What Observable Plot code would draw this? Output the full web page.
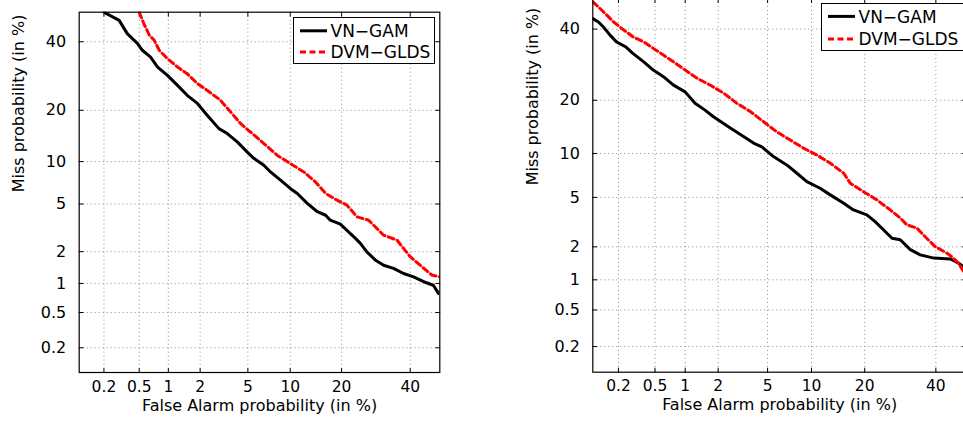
<!DOCTYPE html>
<html><head><meta charset="utf-8">
<script src="https://cdn.jsdelivr.net/npm/d3@7"></script>
<script src="https://cdn.jsdelivr.net/npm/@observablehq/plot@0.6"></script>
<style>
html,body{margin:0;padding:0;background:#fff;}
#wrap{position:relative;width:963px;height:421px;overflow:hidden;font-family:"DejaVu Sans",sans-serif;}
.panel{position:absolute;}
.legend{position:absolute;border:1px solid #000;background:#fff;box-sizing:border-box;overflow:hidden;}
.legend svg{position:absolute;left:0;top:0;}
</style></head><body><div id="wrap"></div>
<script>
// Tick values (in %) and labels
const xTicks = [0.2, 0.5, 1, 2, 5, 10, 20, 40];
const xTickLabels = ["0.2", "0.5", "1", "2", "5", "10", "20", "40"];
const yTicks = [0.2, 0.5, 1, 2, 5, 10, 20, 40];
const yTickLabels = ["0.2", "0.5", "1", "2", "5", "10", "20", "40"];
const axisRange = [0.1, 50];
const xLabel = "False Alarm probability (in %)";
const yLabel = "Miss probability (in %)";
const seriesNames = ["VN\u2212GAM", "DVM\u2212GLDS"];
const seriesColors = ["#000000", "#ff0000"];

// [false alarm %, miss %]
const leftVN = [[0.20,50],[0.30,47.2],[0.37,42.7],[0.48,39.4],[0.54,37.2],[0.66,35.0],[0.78,31.9],[0.98,29.4],[1.23,26.5],[1.52,23.8],[1.89,21.7],[2.32,18.8],[2.92,15.9],[3.43,14.9],[4.13,13.3],[4.95,11.5],[5.55,10.5],[6.58,9.47],[7.34,8.53],[8.61,7.48],[10.0,6.53],[11.1,6.0],[12.8,5.05],[14.7,4.35],[16.4,4.08],[17.4,3.72],[19.7,3.45],[21.7,2.98],[23.5,2.62],[24.8,2.37],[26.6,1.99],[29.0,1.68],[31.5,1.50],[34.6,1.40],[37.8,1.25],[41.1,1.16],[44.5,1.04],[47.8,0.96],[49.6,0.79]];
const leftDVM = [[0.50,50],[0.56,46.1],[0.64,42.2],[0.72,40.5],[0.81,37.2],[0.98,34.5],[1.23,31.9],[1.52,29.9],[1.89,27.0],[2.32,25.1],[3.01,22.5],[3.65,19.6],[4.38,17.0],[5.24,15.2],[6.58,13.0],[8.16,11.0],[10.0,9.71],[12.2,8.53],[14.3,7.29],[16.4,6.0],[18.9,5.35],[21.3,4.9],[23.9,3.96],[27.1,3.72],[29.5,3.18],[31.5,2.79],[35.7,2.53],[37.8,2.14],[40.0,1.80],[43.3,1.50],[47.3,1.21],[50,1.16]];
const rightVN = [[0.10,43.4],[0.117,42.3],[0.134,40.7],[0.16,38.1],[0.19,36.0],[0.24,34.5],[0.29,32.5],[0.38,30.0],[0.48,27.7],[0.61,25.9],[0.77,23.7],[1.0,22.0],[1.24,19.3],[1.53,17.8],[1.82,16.4],[2.54,14.2],[3.26,12.7],[3.91,11.6],[4.53,11.0],[5.52,9.56],[6.86,8.44],[8.04,7.42],[9.34,6.5],[11.3,5.83],[13.0,5.22],[15.5,4.52],[17.5,4.02],[20.5,3.68],[22.5,3.25],[24.6,2.79],[26.9,2.37],[29.2,2.30],[32.1,1.89],[35.1,1.70],[39.3,1.59],[44.7,1.56],[47.4,1.43],[49.0,1.33],[50,1.28]];
const rightDVM = [[0.10,48.9],[0.117,47.2],[0.14,45.1],[0.176,42.3],[0.23,39.7],[0.29,37.6],[0.38,36.0],[0.48,34.0],[0.61,32.0],[0.77,30.0],[1.0,27.7],[1.29,25.5],[1.70,23.7],[2.23,21.7],[2.88,19.3],[3.69,17.5],[4.67,15.4],[5.84,13.5],[7.24,12.1],[8.88,10.8],[10.8,9.78],[13.0,8.66],[15.5,7.42],[16.8,6.34],[19.7,5.51],[22.9,4.80],[26.4,4.02],[29.2,3.47],[31.1,3.06],[34.1,2.88],[37.1,2.37],[39.8,2.01],[43.6,1.76],[45.7,1.59],[47.4,1.43],[49.0,1.20],[50,1.12]];

// inverse normal CDF (Acklam)
function probit(p) {
  const a=[-3.969683028665376e+01,2.209460984245205e+02,-2.759285104469687e+02,1.383577518672690e+02,-3.066479806614716e+01,2.506628277459239e+00];
  const b=[-5.447609879822406e+01,1.615858368580409e+02,-1.556989798598866e+02,6.680131188771972e+01,-1.328068155288572e+01];
  const c=[-7.784894002430293e-03,-3.223964580411365e-01,-2.400758277161838e+00,-2.549732539343734e+00,4.374664141464968e+00,2.938163982698783e+00];
  const d=[7.784695709041462e-03,3.224671290700398e-01,2.445134137142996e+00,3.754408661907416e+00];
  const pl=0.02425, ph=1-pl;
  let q, r;
  if (p < pl) { q=Math.sqrt(-2*Math.log(p)); return (((((c[0]*q+c[1])*q+c[2])*q+c[3])*q+c[4])*q+c[5])/((((d[0]*q+d[1])*q+d[2])*q+d[3])*q+1); }
  if (p <= ph) { q=p-0.5; r=q*q; return (((((a[0]*r+a[1])*r+a[2])*r+a[3])*r+a[4])*r+a[5])*q/(((((b[0]*r+b[1])*r+b[2])*r+b[3])*r+b[4])*r+1); }
  q=Math.sqrt(-2*Math.log(1-p)); return -(((((c[0]*q+c[1])*q+c[2])*q+c[3])*q+c[4])*q+c[5])/((((d[0]*q+d[1])*q+d[2])*q+d[3])*q+1);
}
const P = v => probit(v / 100);
const tickShape = {draw(ctx, l) { ctx.moveTo(0, 0); ctx.lineTo(0, -l); }};

function makePanel(vn, dvm, o) {
  const dom = axisRange.map(P);
  const xt = xTicks.map(P), yt = yTicks.map(P);
  const xf = new Map(xt.map((v, i) => [v, xTickLabels[i]]));
  const yf = new Map(yt.map((v, i) => [v, yTickLabels[i]]));
  const grid = {stroke: "#8c8c8c", strokeOpacity: 1, strokeWidth: 1, strokeDasharray: "1,3"};
  const tk = {shape: tickShape, length: 4, anchor: "start", stroke: "#000", strokeWidth: 1};
  return Plot.plot({
    width: o.width, height: o.height,
    marginLeft: o.ml, marginRight: o.mr, marginTop: o.mt, marginBottom: o.mb,
    style: {fontFamily: "DejaVu Sans", fontSize: "16px", color: "#000", background: "transparent"},
    x: {type: "linear", domain: dom},
    y: {type: "linear", domain: dom},
    marks: [
      Plot.gridX(xt, grid),
      Plot.gridY(yt, grid),
      Plot.vector(xt, {...tk, x: d => d, frameAnchor: "bottom", rotate: 0}),
      Plot.vector(xt, {...tk, x: d => d, frameAnchor: "top", rotate: 180}),
      Plot.vector(yt, {...tk, y: d => d, frameAnchor: "left", rotate: 90}),
      Plot.vector(yt, {...tk, y: d => d, frameAnchor: "right", rotate: -90}),
      Plot.axisX(xt, {tickSize: 0, tickPadding: 8, tickFormat: d => xf.get(d), label: null, fontSize: 15.5}),
      Plot.axisY(yt, {tickSize: 0, tickPadding: 13, tickFormat: d => yf.get(d), label: null, fontSize: 16}),
      Plot.line(vn, {x: d => P(d[0]), y: d => P(d[1]), stroke: seriesColors[0], strokeWidth: 3, clip: true}),
      Plot.line(dvm, {x: d => P(d[0]), y: d => P(d[1]), stroke: seriesColors[1], strokeWidth: 3, strokeDasharray: "6,3.5", clip: true}),
      Plot.frame({stroke: "#000", strokeWidth: 1.2}),
      Plot.text([xLabel], {text: d => d, frameAnchor: "bottom", dy: 33, lineAnchor: "middle", fontSize: 16, fill: "#000"}),
      Plot.text([yLabel], {text: d => d, frameAnchor: "left", dx: -60, rotate: -90, lineAnchor: "middle", fontSize: 16, fill: "#000"})
    ]
  });
}

function makeLegend(o) {
  const div = document.createElement("div");
  div.className = "legend";
  Object.assign(div.style, {left: o.left + "px", top: o.top + "px", width: o.w + "px", height: o.h + "px"});
  const svg = d3.create("svg").attr("width", o.w).attr("height", o.h);
  seriesNames.forEach((name, i) => {
    const y = o.rows[i];
    svg.append("line").attr("x1", 6).attr("x2", 33).attr("y1", y).attr("y2", y)
      .attr("stroke", seriesColors[i]).attr("stroke-width", 3)
      .attr("stroke-dasharray", i === 1 ? "6,3.5" : null);
    svg.append("text").attr("x", 36.5).attr("y", y).attr("dy", "0.36em")
      .attr("font-family", "DejaVu Sans").attr("font-size", 17).attr("fill", "#000").text(name);
  });
  div.appendChild(svg.node());
  return div;
}

const wrap = document.getElementById("wrap");
const left = makePanel(leftVN, leftDVM, {width: 480, height: 421, ml: 78.7, mr: 40.7, mt: 11.7, mb: 49});
left.classList.add("panel"); left.style.left = "0px"; left.style.top = "0px";
wrap.appendChild(left);
const right = makePanel(rightVN, rightDVM, {width: 493, height: 432.7, ml: 109.3, mr: 10, mt: 10, mb: 49});
right.classList.add("panel"); right.style.left = "483px"; right.style.top = "-11.7px";
wrap.appendChild(right);
wrap.appendChild(makeLegend({left: 293.3, top: 16.7, w: 142, h: 47.5, rows: [12.8, 34.0]}));
wrap.appendChild(makeLegend({left: 820.5, top: 3.3, w: 143, h: 47.7, rows: [12.4, 35.0]}));
</script></body></html>
